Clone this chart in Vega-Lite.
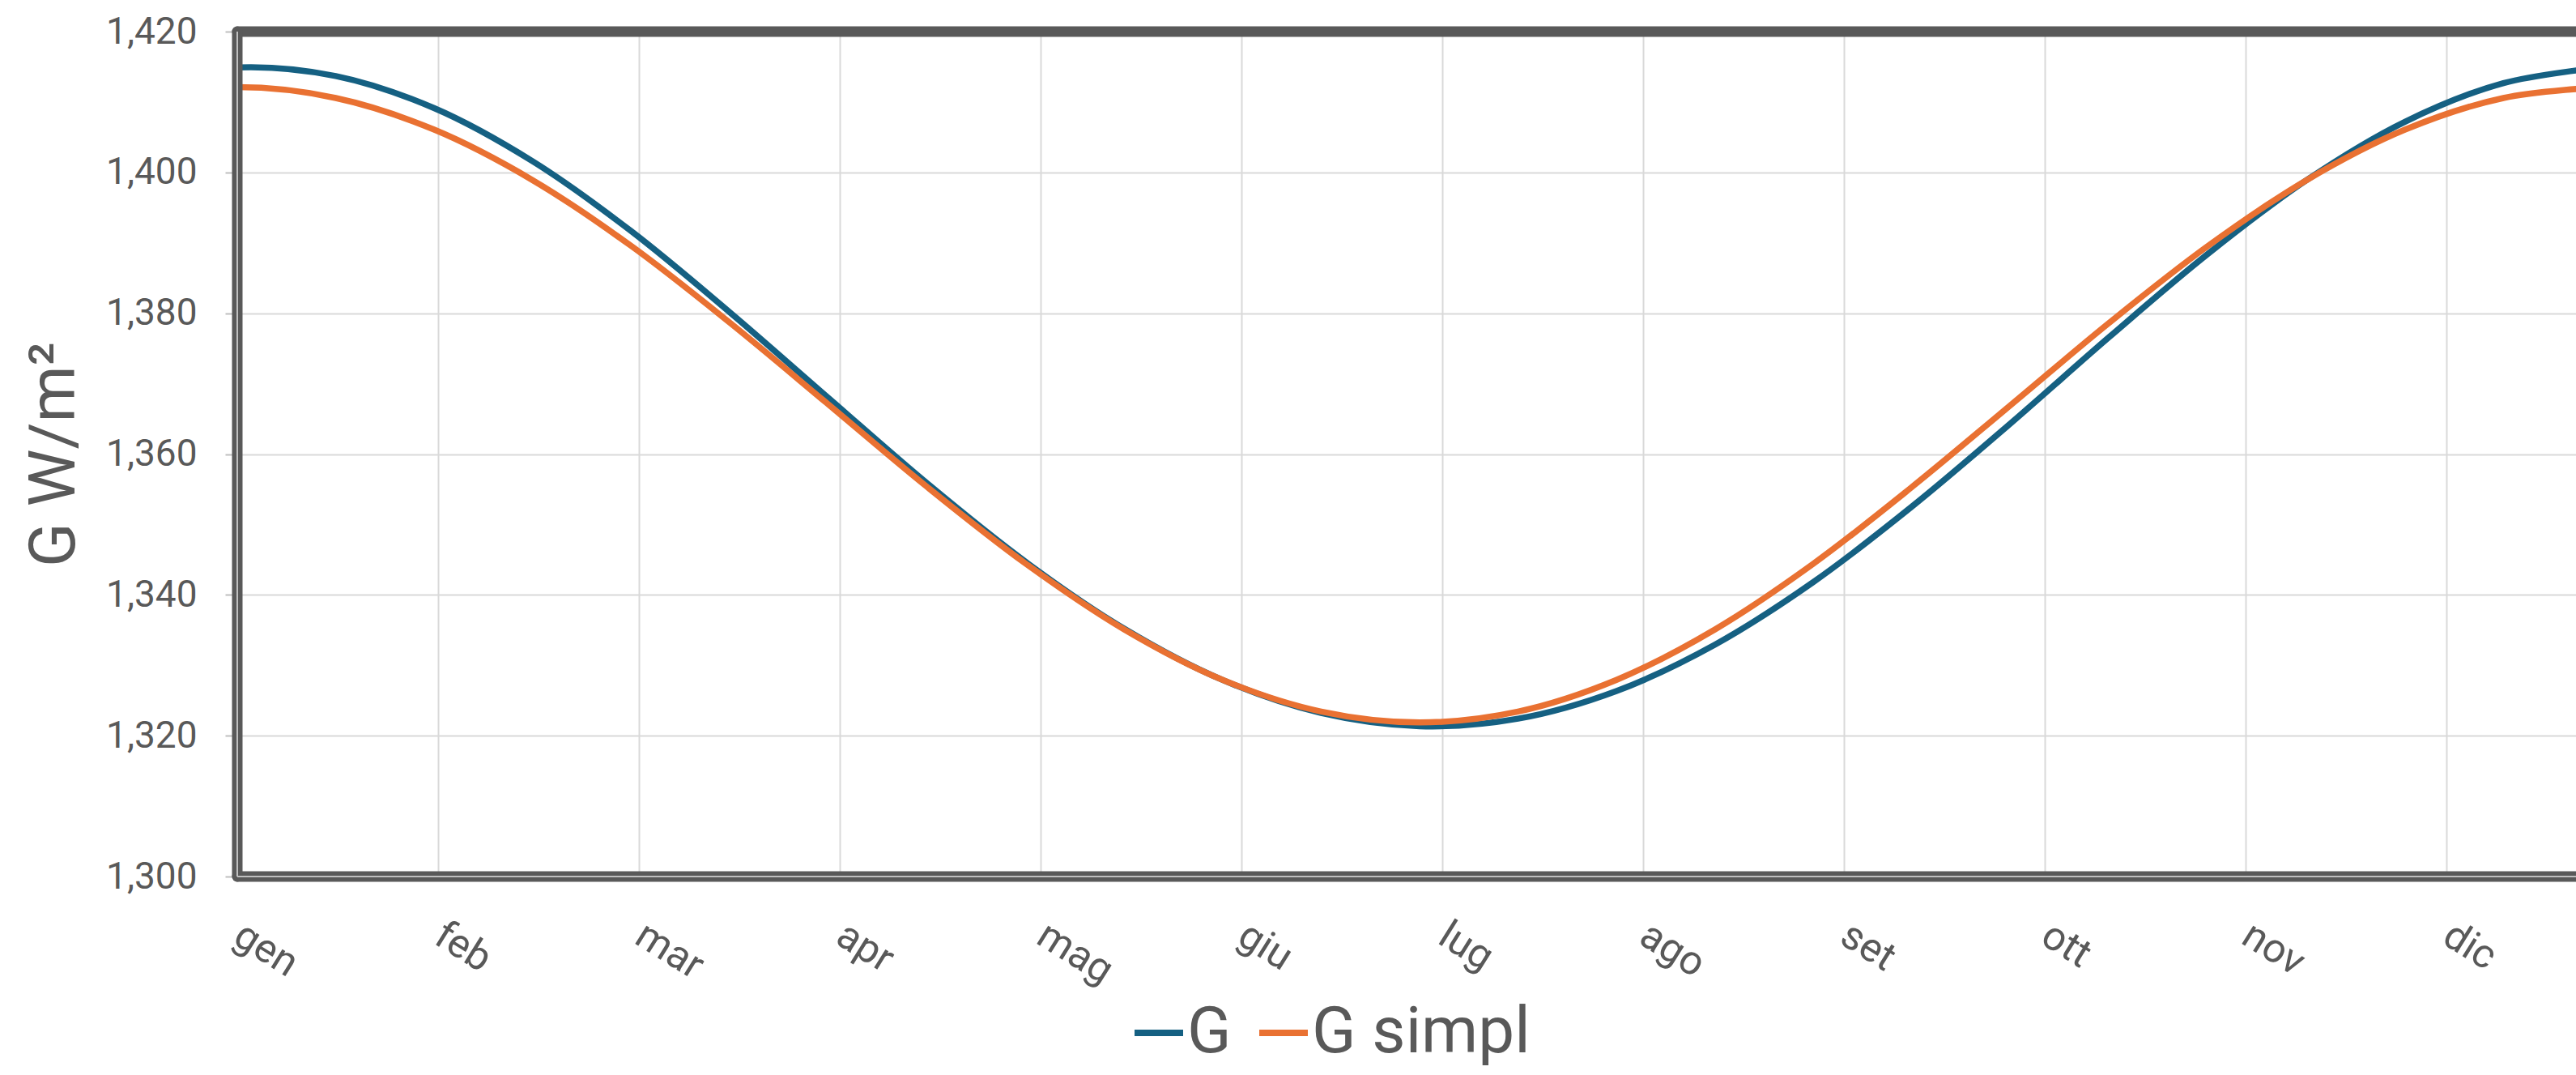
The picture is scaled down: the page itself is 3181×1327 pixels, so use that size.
{
  "$schema": "https://vega.github.io/schema/vega-lite/v6.json",
  "autosize": {"type": "none"},
  "padding": {"left": 293, "top": 39, "right": 0, "bottom": 245},
  "width": 2888,
  "height": 1043,
  "background": "white",
  "config": {
    "font": "Roboto",
    "view": {"stroke": null},
    "axis": {"labelFont": "Roboto", "titleFont": "Roboto"}
  },
  "datasets": {
    "curve": [
      {"giorno": -15.2, "serie": "G", "G": 1412.68}, {"giorno": -15.2, "serie": "G simpl", "G": 1410.57},
      {"giorno": 0.0, "serie": "G", "G": 1414.91}, {"giorno": 0.0, "serie": "G simpl", "G": 1412.11},
      {"giorno": 15.2, "serie": "G", "G": 1413.69}, {"giorno": 15.2, "serie": "G simpl", "G": 1410.57},
      {"giorno": 30.4, "serie": "G", "G": 1409.12}, {"giorno": 30.4, "serie": "G simpl", "G": 1406.07},
      {"giorno": 45.6, "serie": "G", "G": 1401.57}, {"giorno": 45.6, "serie": "G simpl", "G": 1398.90},
      {"giorno": 60.8, "serie": "G", "G": 1391.66}, {"giorno": 60.8, "serie": "G simpl", "G": 1389.56},
      {"giorno": 76.0, "serie": "G", "G": 1380.15}, {"giorno": 76.0, "serie": "G simpl", "G": 1378.68},
      {"giorno": 91.3, "serie": "G", "G": 1367.92}, {"giorno": 91.3, "serie": "G simpl", "G": 1367.00},
      {"giorno": 106.5, "serie": "G", "G": 1355.83}, {"giorno": 106.5, "serie": "G simpl", "G": 1355.32},
      {"giorno": 121.7, "serie": "G", "G": 1344.69}, {"giorno": 121.7, "serie": "G simpl", "G": 1344.44},
      {"giorno": 136.9, "serie": "G", "G": 1335.20}, {"giorno": 136.9, "serie": "G simpl", "G": 1335.10},
      {"giorno": 152.1, "serie": "G", "G": 1327.91}, {"giorno": 152.1, "serie": "G simpl", "G": 1327.93},
      {"giorno": 167.3, "serie": "G", "G": 1323.22}, {"giorno": 167.3, "serie": "G simpl", "G": 1323.43},
      {"giorno": 182.5, "serie": "G", "G": 1321.35}, {"giorno": 182.5, "serie": "G simpl", "G": 1321.89},
      {"giorno": 197.7, "serie": "G", "G": 1322.42}, {"giorno": 197.7, "serie": "G simpl", "G": 1323.43},
      {"giorno": 212.9, "serie": "G", "G": 1326.35}, {"giorno": 212.9, "serie": "G simpl", "G": 1327.93},
      {"giorno": 228.1, "serie": "G", "G": 1332.94}, {"giorno": 228.1, "serie": "G simpl", "G": 1335.10},
      {"giorno": 243.3, "serie": "G", "G": 1341.84}, {"giorno": 243.3, "serie": "G simpl", "G": 1344.44},
      {"giorno": 258.5, "serie": "G", "G": 1352.55}, {"giorno": 258.5, "serie": "G simpl", "G": 1355.32},
      {"giorno": 273.8, "serie": "G", "G": 1364.42}, {"giorno": 273.8, "serie": "G simpl", "G": 1367.00},
      {"giorno": 289.0, "serie": "G", "G": 1376.66}, {"giorno": 289.0, "serie": "G simpl", "G": 1378.68},
      {"giorno": 304.2, "serie": "G", "G": 1388.44}, {"giorno": 304.2, "serie": "G simpl", "G": 1389.56},
      {"giorno": 319.4, "serie": "G", "G": 1398.89}, {"giorno": 319.4, "serie": "G simpl", "G": 1398.90},
      {"giorno": 334.6, "serie": "G", "G": 1407.19}, {"giorno": 334.6, "serie": "G simpl", "G": 1406.07},
      {"giorno": 349.8, "serie": "G", "G": 1412.68}, {"giorno": 349.8, "serie": "G simpl", "G": 1410.57},
      {"giorno": 365.0, "serie": "G", "G": 1414.91}, {"giorno": 365.0, "serie": "G simpl", "G": 1412.11}
    ],
    "frame": [{"lato": "bordo"}]
  },
  "layer": [
    {
      "data": {"name": "curve"},
      "mark": {"type": "line", "strokeWidth": 7.5, "interpolate": "catmull-rom", "clip": true, "strokeCap": "round", "strokeJoin": "round"},
      "encoding": {
        "x": {
          "field": "giorno", "type": "quantitative",
          "scale": {"domain": [0, 361], "nice": false, "zero": false},
          "axis": {
            "title": null,
            "values": [0, 31, 62, 93, 124, 155, 186, 217, 248, 279, 310, 341],
            "labelExpr": "['gen','feb','mar','apr','mag','giu','lug','ago','set','ott','nov','dic'][round(datum.value/31)]",
            "labelAngle": 32, "labelAlign": "left", "labelBaseline": "middle",
            "labelPadding": 68,
            "labelFontSize": 50, "labelColor": "#595959",
            "labelFlush": false, "labelOverlap": false, "labelBound": false,
            "ticks": false, "domain": false,
            "grid": true, "gridColor": "#d9d9d9", "gridWidth": 2
          }
        },
        "y": {
          "field": "G", "type": "quantitative",
          "scale": {"domain": [1300, 1420], "nice": false, "zero": false},
          "axis": {
            "title": "G W/m²",
            "titleFontSize": 80, "titleColor": "#595959", "titleFontWeight": "normal", "titlePadding": 22,
            "values": [1300, 1320, 1340, 1360, 1380, 1400, 1420],
            "format": ",",
            "labelFontSize": 46, "labelColor": "#595959", "labelPadding": 35,
            "ticks": true, "tickColor": "#bfbfbf", "tickSize": 15, "tickWidth": 2,
            "domain": false,
            "grid": true, "gridColor": "#d9d9d9", "gridWidth": 2
          }
        },
        "color": {
          "field": "serie", "type": "nominal",
          "scale": {"domain": ["G", "G simpl"], "range": ["#156082", "#E97132"]},
          "legend": {
            "title": null, "orient": "none", "direction": "horizontal",
            "legendX": 1098, "legendY": 1196,
            "padding": 0,
            "symbolType": "stroke", "symbolSize": 3600, "symbolStrokeWidth": 8,
            "labelFontSize": 80, "labelColor": "#595959", "labelFont": "Roboto", "labelLimit": 1000,
            "labelOffset": -5, "columnPadding": 18
          }
        }
      }
    },
    {
      "data": {"name": "frame"},
      "mark": {"type": "rule", "color": "#595959", "strokeWidth": 13, "strokeCap": "round"},
      "encoding": {"y": {"datum": 1420}}
    },
    {
      "data": {"name": "frame"},
      "mark": {"type": "rule", "color": "#595959", "strokeWidth": 13, "strokeCap": "round"},
      "encoding": {"y": {"datum": 1300}}
    },
    {
      "data": {"name": "frame"},
      "mark": {"type": "rule", "color": "#595959", "strokeWidth": 13, "strokeCap": "round"},
      "encoding": {"x": {"datum": 0}}
    },
    {
      "data": {"name": "frame"},
      "mark": {"type": "rule", "color": "#bfbfbf", "strokeWidth": 2},
      "encoding": {"y": {"datum": 1300}}
    },
    {
      "data": {"name": "frame"},
      "mark": {"type": "rule", "color": "#bfbfbf", "strokeWidth": 2},
      "encoding": {"x": {"datum": 0}}
    }
  ]
}
